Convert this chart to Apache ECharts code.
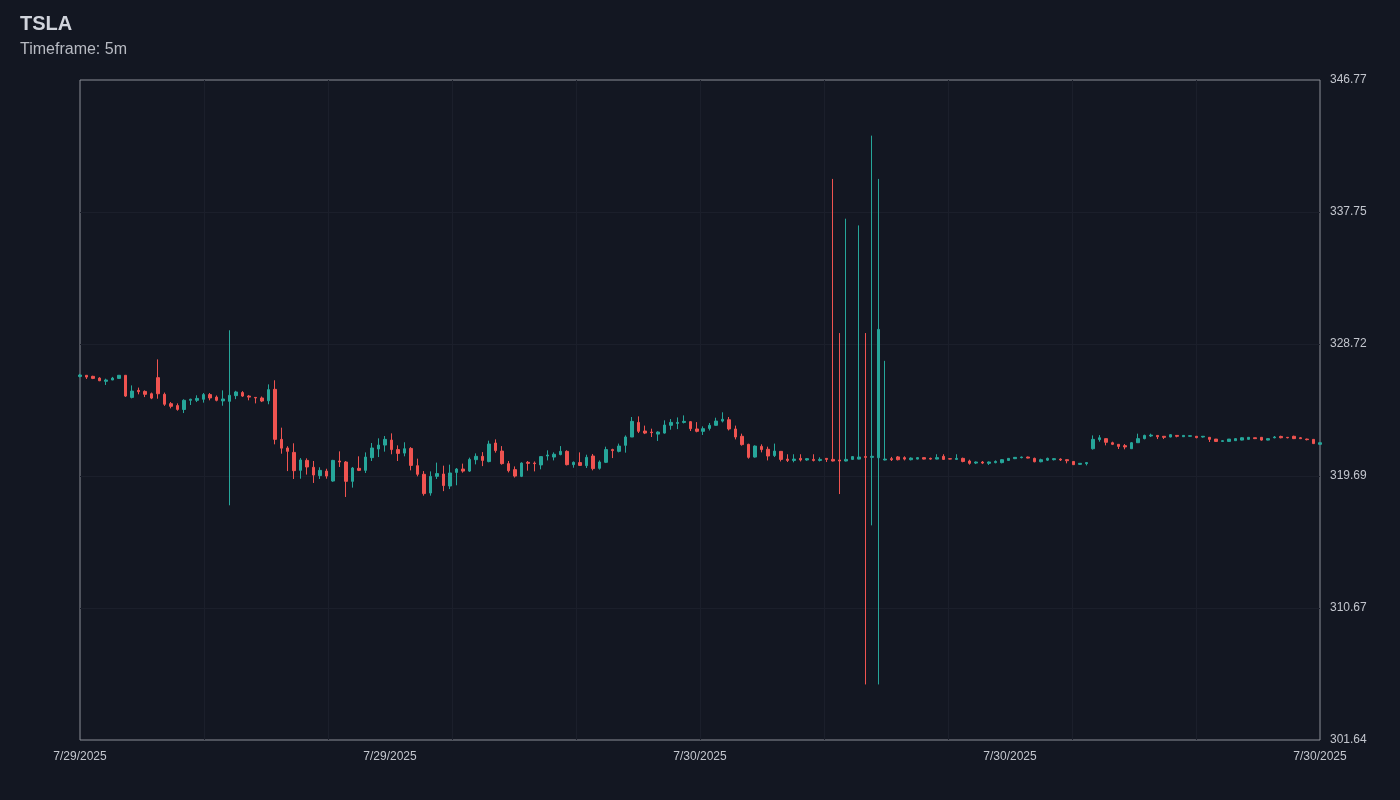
<!DOCTYPE html>
<html lang="en">
<head>
<meta charset="utf-8">
<title>TSLA 5m</title>
<script src="https://cdn.jsdelivr.net/npm/echarts@6.0.0/dist/echarts.min.js"></script>
<style>
    html, body {
        margin: 0;
        padding: 0;
        width: 100%;
        height: 100%;
        background: #131722;
    }
    #chart {
        width: 1400px;
        height: 800px;
    }
</style>
</head>
<body>
<div id="chart"></div>
<script>
// 5m candles (one entry per bar)
const opens = [
    326.50, 326.58, 326.51, 326.39, 326.17, 326.26, 326.37, 326.58, 325.07, 325.55,
    325.48, 325.32, 326.42, 325.28, 324.64, 324.51, 324.24, 324.87, 324.87, 324.94,
    325.26, 325.09, 324.83, 324.80, 325.19, 325.40, 325.16, 325.07, 325.03, 324.84,
    325.62, 322.20, 321.61, 321.31, 320.08, 320.76, 320.29, 319.72, 320.03, 319.35,
    320.72, 320.65, 319.33, 320.22, 320.08, 320.95, 321.54, 321.81, 322.15, 321.50,
    321.26, 321.58, 320.40, 319.81, 318.53, 319.67, 319.83, 319.01, 319.94, 320.17,
    320.03, 320.81, 321.04, 320.68, 321.95, 321.40, 320.54, 320.13, 319.67, 320.63,
    320.58, 320.45, 321.06, 320.99, 321.16, 321.38, 320.47, 320.61, 320.40, 321.06,
    320.22, 320.63, 321.50, 321.38, 321.79, 322.36, 323.36, 322.77, 322.70, 322.56,
    322.63, 323.16, 323.29, 323.36, 323.41, 322.91, 322.75, 322.95, 323.16, 323.45,
    323.54, 322.91, 322.41, 321.86, 320.99, 321.72, 321.52, 321.09, 321.38, 320.85,
    320.76, 320.90, 320.79, 320.83, 320.76, 320.90, 320.83, 320.79, 320.72, 320.83,
    320.85, 321.02, 320.97, 320.94, 320.79, 320.88, 321.00, 320.95, 320.81, 320.85,
    320.95, 320.90, 320.85, 321.04, 320.88, 320.83, 320.90, 320.72, 320.58, 320.65,
    320.56, 320.61, 320.61, 320.76, 320.88, 320.95, 320.99, 320.90, 320.67, 320.78,
    320.81, 320.85, 320.81, 320.69, 320.49, 320.54, 321.56, 322.18, 322.25, 321.97,
    321.86, 321.77, 321.56, 321.97, 322.25, 322.43, 322.47, 322.41, 322.36, 322.47,
    322.38, 322.41, 322.41, 322.36, 322.34, 322.22, 322.06, 322.06, 322.11, 322.15,
    322.20, 322.31, 322.34, 322.15, 322.31, 322.40, 322.34, 322.41, 322.31, 322.22,
    322.20, 321.86
];

const closes = [
    326.60, 326.46, 326.37, 326.21, 326.26, 326.39, 326.58, 325.16, 325.50, 325.46,
    325.28, 325.02, 325.32, 324.60, 324.46, 324.25, 324.87, 324.94, 325.00, 325.26,
    325.03, 324.87, 324.96, 325.21, 325.44, 325.16, 325.09, 325.03, 324.82, 325.60,
    322.20, 321.60, 321.38, 320.06, 320.79, 320.31, 319.76, 320.08, 319.69, 320.76,
    320.65, 319.33, 320.24, 320.08, 320.99, 321.61, 321.81, 322.20, 321.50, 321.24,
    321.56, 320.42, 319.81, 318.49, 319.67, 319.86, 319.04, 319.90, 320.17, 320.03,
    320.83, 321.04, 320.76, 321.88, 321.43, 320.54, 320.06, 319.69, 320.58, 320.56,
    320.54, 321.02, 321.13, 321.18, 321.38, 320.47, 320.63, 320.42, 320.97, 320.20,
    320.65, 321.50, 321.43, 321.74, 322.36, 323.43, 322.75, 322.63, 322.66, 322.70,
    323.18, 323.36, 323.36, 323.43, 322.93, 322.75, 322.93, 323.16, 323.45, 323.57,
    322.91, 322.36, 321.84, 320.97, 321.74, 321.50, 321.06, 321.40, 320.83, 320.76,
    320.85, 320.79, 320.88, 320.76, 320.83, 320.83, 320.72, 320.72, 320.83, 321.02,
    320.99, 320.97, 321.04, 329.72, 320.85, 320.81, 320.81, 320.85, 320.92, 320.95,
    320.85, 320.85, 320.95, 320.83, 320.85, 320.90, 320.69, 320.56, 320.65, 320.58,
    320.65, 320.69, 320.81, 320.90, 320.97, 320.99, 320.92, 320.67, 320.81, 320.90,
    320.88, 320.79, 320.74, 320.47, 320.56, 320.61, 322.20, 322.31, 322.00, 321.86,
    321.72, 321.68, 321.97, 322.25, 322.47, 322.49, 322.38, 322.34, 322.52, 322.41,
    322.47, 322.45, 322.32, 322.41, 322.20, 322.06, 322.11, 322.22, 322.25, 322.31,
    322.34, 322.25, 322.15, 322.25, 322.36, 322.31, 322.31, 322.25, 322.25, 322.18,
    321.91, 321.97
];

const lows = [
    326.44, 326.33, 326.32, 326.18, 325.92, 326.25, 326.35, 325.10, 325.00, 325.28,
    325.09, 324.95, 324.98, 324.49, 324.32, 324.16, 324.00, 324.55, 324.75, 324.71,
    324.87, 324.80, 324.50, 317.69, 324.95, 325.10, 324.87, 324.66, 324.75, 324.60,
    321.86, 321.22, 320.03, 319.49, 319.51, 319.79, 319.22, 319.49, 319.51, 319.30,
    320.31, 318.26, 318.90, 320.03, 319.90, 320.72, 320.99, 321.36, 321.18, 320.72,
    321.04, 320.08, 319.67, 318.35, 318.35, 319.49, 318.66, 318.80, 319.06, 319.92,
    319.97, 320.49, 320.37, 320.63, 321.29, 320.47, 319.94, 319.59, 319.62, 320.06,
    320.01, 320.15, 320.76, 320.76, 321.11, 320.42, 320.26, 320.38, 320.24, 320.08,
    320.13, 320.58, 320.92, 321.31, 321.29, 322.36, 322.63, 322.56, 322.36, 322.09,
    322.59, 322.86, 322.90, 323.29, 322.77, 322.68, 322.50, 322.81, 323.14, 323.36,
    322.81, 322.20, 321.77, 320.88, 320.95, 321.31, 320.76, 320.99, 320.69, 320.65,
    320.63, 320.69, 320.74, 320.69, 320.69, 320.65, 320.69, 318.46, 320.69, 320.79,
    320.83, 305.44, 316.32, 305.44, 320.76, 320.72, 320.76, 320.76, 320.76, 320.83,
    320.83, 320.81, 320.83, 320.81, 320.83, 320.81, 320.63, 320.47, 320.51, 320.51,
    320.45, 320.56, 320.56, 320.74, 320.85, 320.90, 320.90, 320.63, 320.63, 320.72,
    320.76, 320.72, 320.56, 320.45, 320.45, 320.42, 321.50, 322.04, 321.79, 321.81,
    321.54, 321.52, 321.54, 321.95, 322.20, 322.36, 322.22, 322.22, 322.34, 322.34,
    322.36, 322.38, 322.27, 322.32, 322.02, 322.02, 322.02, 322.04, 322.09, 322.13,
    322.18, 322.22, 322.11, 322.13, 322.27, 322.27, 322.27, 322.22, 322.22, 322.13,
    321.88, 321.84
];

const highs = [
    326.68, 326.60, 326.55, 326.45, 326.35, 326.47, 326.60, 326.60, 325.89, 325.74,
    325.55, 325.40, 327.67, 325.40, 324.75, 324.66, 324.94, 324.98, 325.21, 325.37,
    325.37, 325.20, 325.55, 329.66, 325.52, 325.50, 325.23, 325.09, 325.13, 325.96,
    326.24, 323.00, 321.73, 321.93, 320.92, 320.90, 320.72, 320.29, 320.19, 320.80,
    321.38, 320.72, 320.31, 321.04, 321.31, 321.95, 322.27, 322.43, 322.61, 321.79,
    322.00, 321.67, 320.88, 320.03, 320.01, 320.61, 320.40, 320.47, 320.24, 320.54,
    320.95, 321.24, 321.33, 322.11, 322.20, 321.74, 320.72, 320.35, 320.63, 320.72,
    320.69, 321.04, 321.45, 321.31, 321.74, 321.45, 320.69, 321.31, 321.15, 321.20,
    320.76, 321.70, 321.56, 321.91, 322.47, 323.73, 323.77, 323.14, 322.93, 322.75,
    323.50, 323.59, 323.70, 323.84, 323.45, 323.38, 323.09, 323.32, 323.68, 324.05,
    323.73, 323.14, 322.59, 321.90, 321.79, 321.86, 321.70, 321.91, 321.40, 321.18,
    321.18, 321.18, 320.92, 321.18, 320.97, 320.90, 340.01, 329.47, 337.29, 321.06,
    336.83, 329.47, 342.97, 340.01, 327.57, 321.00, 321.06, 321.04, 320.97, 320.99,
    320.97, 320.95, 321.18, 321.18, 320.90, 321.18, 320.95, 320.81, 320.69, 320.72,
    320.69, 320.76, 320.85, 320.92, 320.99, 321.02, 321.02, 320.95, 320.88, 320.95,
    320.92, 320.90, 320.83, 320.72, 320.58, 320.63, 322.47, 322.49, 322.25, 322.04,
    321.86, 321.88, 322.02, 322.59, 322.52, 322.59, 322.47, 322.41, 322.56, 322.50,
    322.47, 322.47, 322.43, 322.41, 322.36, 322.22, 322.15, 322.22, 322.27, 322.34,
    322.36, 322.31, 322.36, 322.27, 322.43, 322.45, 322.36, 322.45, 322.36, 322.25,
    322.22, 322.00
];

// date labels under the x axis, evenly spaced from first to last bar
const xTickLabels = ['7/29/2025', '7/29/2025', '7/30/2025', '7/30/2025', '7/30/2025'];

// price range shown on the right axis
const priceMin = 301.6413;
const priceMax = 346.7742;

document.addEventListener('DOMContentLoaded', function () {
    initChart();
});

/**
 * candlestick chart
 */
function initChart() {
    if (typeof echarts === 'undefined') {
        console.error('ECharts not loaded');
        return;
    }

    const upColor = '#26a69a';
    const downColor = '#ef5350';
    const textColor = '#c3c6ce';
    const gridLineColor = '#1b1f2b';
    const borderColor = '#8c8f97';
    const font = 'Liberation Sans, Arial, sans-serif';

    const lastIndex = opens.length - 1;
    const labelStep = lastIndex / (xTickLabels.length - 1);

    // [index, open, close, low, high]
    const candleData = opens.map((o, i) => [i, o, closes[i], lows[i], highs[i]]);

    const chart = echarts.init(document.getElementById('chart'));

    chart.setOption({
        animation: false,
        backgroundColor: '#131722',
        title: {
            text: 'TSLA',
            subtext: 'Timeframe: 5m',
            left: 15,
            top: 9,
            itemGap: 8,
            textStyle: {
                color: '#d1d4dc',
                fontSize: 20,
                fontWeight: 'bold',
                fontFamily: font
            },
            subtextStyle: {
                color: '#b8bbc3',
                fontSize: 16,
                fontFamily: font
            }
        },
        grid: {
            left: 80,
            right: 80,
            top: 80,
            bottom: 60,
            show: true,
            borderColor: borderColor,
            borderWidth: 1,
            backgroundColor: 'transparent'
        },
        xAxis: [
            {
                // vertical grid lines only
                type: 'value',
                min: 0,
                max: lastIndex,
                interval: lastIndex / 10,
                axisLine: { show: false },
                axisTick: { show: false },
                axisLabel: { show: false },
                splitLine: {
                    show: true,
                    showMinLine: false,
                    showMaxLine: false,
                    lineStyle: { color: gridLineColor, width: 1 }
                }
            },
            {
                // date labels
                type: 'value',
                position: 'bottom',
                min: 0,
                max: lastIndex,
                interval: labelStep,
                axisLine: { show: false },
                axisTick: { show: false },
                splitLine: { show: false },
                axisLabel: {
                    color: textColor,
                    fontSize: 12,
                    margin: 11,
                    showMinLabel: true,
                    showMaxLabel: true,
                    fontFamily: font,
                    formatter: function (v) {
                        return xTickLabels[Math.round(v / labelStep)] || '';
                    }
                }
            }
        ],
        yAxis: {
            type: 'value',
            position: 'right',
            min: priceMin,
            max: priceMax,
            interval: (priceMax - priceMin) / 5,
            axisLine: { show: false },
            axisTick: { show: false },
            splitLine: {
                show: true,
                showMinLine: false,
                showMaxLine: false,
                lineStyle: { color: gridLineColor, width: 1 }
            },
            axisLabel: {
                color: textColor,
                fontSize: 12,
                margin: 10,
                padding: [4, 0, 0, 0],
                showMinLabel: true,
                showMaxLabel: true,
                fontFamily: font,
                formatter: function (v) {
                    return v.toFixed(2);
                }
            }
        },
        series: [
            {
                type: 'candlestick',
                xAxisIndex: 0,
                data: candleData,
                encode: { x: 0, y: [1, 2, 3, 4] },
                barWidth: 3,
                itemStyle: {
                    color: upColor,
                    color0: downColor,
                    borderColor: upColor,
                    borderColor0: downColor,
                    borderWidth: 1
                }
            }
        ]
    });

    window.addEventListener('resize', function () {
        chart.resize();
    });
}
</script>
</body>
</html>
